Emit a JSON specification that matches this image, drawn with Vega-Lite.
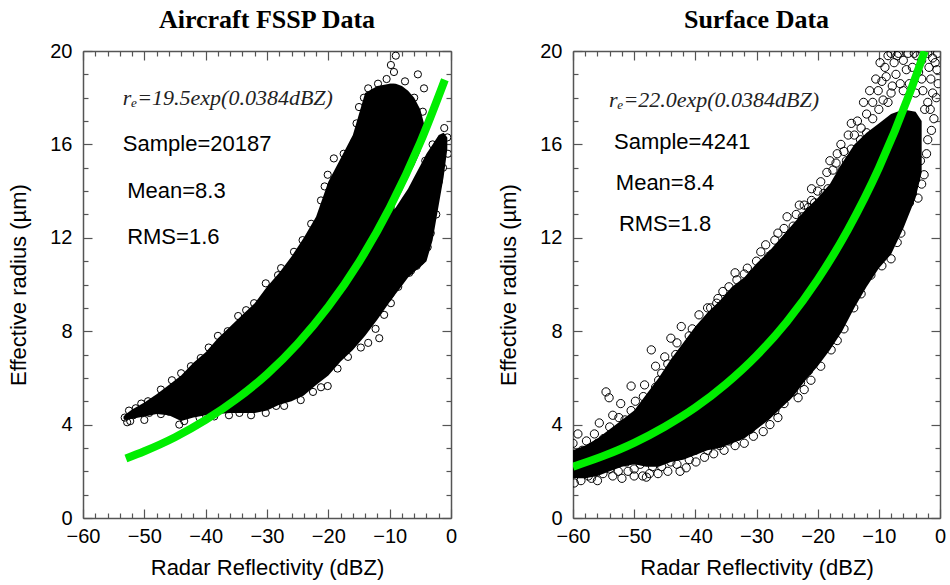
{
  "$schema": "https://vega.github.io/schema/vega-lite/v6.json",
  "background": "white",
  "padding": {"left": 7, "top": 7, "right": 5, "bottom": 4},
  "config": {
    "view": {"stroke": null},
    "axis": {
      "domainColor": "#555555", "domainWidth": 1.5,
      "tickColor": "#555555", "tickWidth": 1.2,
      "labelFont": "Liberation Sans", "labelFontSize": 20, "labelColor": "black",
      "titleFont": "Liberation Sans", "titleFontSize": 22, "titleFontWeight": "normal", "titleColor": "black",
      "grid": false, "labelOverlap": false, "labelFlush": false
    },
    "title": {"font": "Liberation Serif", "fontWeight": "bold", "fontSize": 26, "color": "black", "offset": 8}
  },
  "datasets": {
    "coreA": [
      {"part": "main", "x": -53.4, "lo": 4.25, "hi": 4.35},
      {"part": "main", "x": -53, "lo": 4.2, "hi": 4.45},
      {"part": "main", "x": -52, "lo": 4.25, "hi": 4.65},
      {"part": "main", "x": -50, "lo": 4.35, "hi": 4.95},
      {"part": "main", "x": -48, "lo": 4.45, "hi": 5.3},
      {"part": "main", "x": -46, "lo": 4.4, "hi": 5.7},
      {"part": "main", "x": -44, "lo": 4.15, "hi": 6.1},
      {"part": "main", "x": -42, "lo": 4.3, "hi": 6.65},
      {"part": "main", "x": -40, "lo": 4.4, "hi": 7.1},
      {"part": "main", "x": -38, "lo": 4.45, "hi": 7.7},
      {"part": "main", "x": -36, "lo": 4.5, "hi": 8.2},
      {"part": "main", "x": -34, "lo": 4.5, "hi": 8.7},
      {"part": "main", "x": -32, "lo": 4.5, "hi": 9.2},
      {"part": "main", "x": -30, "lo": 4.6, "hi": 9.9},
      {"part": "main", "x": -28, "lo": 4.85, "hi": 10.5},
      {"part": "main", "x": -26, "lo": 5.0, "hi": 11.2},
      {"part": "main", "x": -24, "lo": 5.25, "hi": 12.0},
      {"part": "main", "x": -22, "lo": 5.7, "hi": 12.9},
      {"part": "main", "x": -20, "lo": 6.1, "hi": 14.4},
      {"part": "main", "x": -18, "lo": 6.7, "hi": 15.4},
      {"part": "main", "x": -16, "lo": 7.2, "hi": 16.4},
      {"part": "main", "x": -14, "lo": 7.8, "hi": 18.2},
      {"part": "main", "x": -12, "lo": 8.5, "hi": 18.5},
      {"part": "main", "x": -10, "lo": 9.25, "hi": 18.6},
      {"part": "main", "x": -9.2, "lo": 9.55, "hi": 18.6},
      {"part": "upper", "x": -10, "lo": 13.0, "hi": 18.6},
      {"part": "upper", "x": -9, "lo": 13.5, "hi": 18.6},
      {"part": "upper", "x": -8, "lo": 14.0, "hi": 18.5},
      {"part": "upper", "x": -7, "lo": 14.6, "hi": 18.3},
      {"part": "upper", "x": -6, "lo": 15.1, "hi": 18.0},
      {"part": "upper", "x": -5, "lo": 15.7, "hi": 17.5},
      {"part": "upper", "x": -4.4, "lo": 16.3, "hi": 16.9},
      {"part": "lower", "x": -10, "lo": 9.25, "hi": 13.0},
      {"part": "lower", "x": -9, "lo": 9.6, "hi": 13.3},
      {"part": "lower", "x": -8, "lo": 9.95, "hi": 13.7},
      {"part": "lower", "x": -7, "lo": 10.3, "hi": 14.1},
      {"part": "lower", "x": -6, "lo": 10.55, "hi": 14.6},
      {"part": "lower", "x": -5, "lo": 10.75, "hi": 15.1},
      {"part": "lower", "x": -4, "lo": 11.0, "hi": 15.6},
      {"part": "lower", "x": -3, "lo": 11.9, "hi": 16.0},
      {"part": "lower", "x": -2, "lo": 13.4, "hi": 16.4},
      {"part": "lower", "x": -1.2, "lo": 14.6, "hi": 16.5},
      {"part": "lower", "x": -0.6, "lo": 15.8, "hi": 16.3}
    ],
    "ptsA": [
      {"x": -53.2, "y": 4.3}, {"x": -52.8, "y": 4.1}, {"x": -52.3, "y": 4.15}, {"x": -51.8, "y": 4.4}, {"x": -51.4, "y": 4.7},
      {"x": -50.0, "y": 4.2}, {"x": -49.2, "y": 4.5}, {"x": -47.3, "y": 4.45}, {"x": -46.0, "y": 4.55}, {"x": -44.3, "y": 4.0},
      {"x": -43.5, "y": 4.15}, {"x": -41.0, "y": 4.3}, {"x": -38.6, "y": 4.35}, {"x": -36.2, "y": 4.4}, {"x": -34.5, "y": 4.5},
      {"x": -32.6, "y": 4.4}, {"x": -30.2, "y": 4.5}, {"x": -28.5, "y": 4.8}, {"x": -27.2, "y": 4.8}, {"x": -24.5, "y": 5.05},
      {"x": -22.5, "y": 5.4}, {"x": -21.2, "y": 5.6}, {"x": -20.1, "y": 5.65}, {"x": -18.5, "y": 6.4}, {"x": -16.8, "y": 6.9},
      {"x": -14.7, "y": 7.3}, {"x": -13.5, "y": 7.5}, {"x": -11.7, "y": 7.7}, {"x": -12.3, "y": 8.1}, {"x": -10.9, "y": 8.7},
      {"x": -9.8, "y": 9.2}, {"x": -8.6, "y": 9.9}, {"x": -6.8, "y": 10.5}, {"x": -5.6, "y": 10.8},
      {"x": -52.5, "y": 4.6}, {"x": -50.5, "y": 4.9}, {"x": -49.4, "y": 5.0}, {"x": -47.3, "y": 5.5}, {"x": -45.5, "y": 5.9},
      {"x": -44.0, "y": 6.2}, {"x": -42.4, "y": 6.5}, {"x": -40.8, "y": 6.85}, {"x": -39.5, "y": 7.3}, {"x": -38.0, "y": 7.8},
      {"x": -36.4, "y": 8.0}, {"x": -34.7, "y": 8.65}, {"x": -33.4, "y": 8.9}, {"x": -32.1, "y": 9.2}, {"x": -30.2, "y": 10.05},
      {"x": -28.2, "y": 10.4}, {"x": -27.7, "y": 10.7}, {"x": -25.6, "y": 11.4}, {"x": -24.2, "y": 11.9}, {"x": -22.8, "y": 12.6},
      {"x": -21.2, "y": 13.6}, {"x": -20.6, "y": 14.2}, {"x": -20.1, "y": 14.7}, {"x": -19.1, "y": 15.4}, {"x": -17.5, "y": 15.6},
      {"x": -15.8, "y": 16.1}, {"x": -15.4, "y": 16.9}, {"x": -15.0, "y": 17.6}, {"x": -14.2, "y": 18.0}, {"x": -13.5, "y": 18.4},
      {"x": -11.9, "y": 18.6}, {"x": -10.5, "y": 18.8}, {"x": -9.8, "y": 19.4}, {"x": -9.0, "y": 19.8}, {"x": -9.3, "y": 19.1},
      {"x": -7.5, "y": 18.7}, {"x": -5.4, "y": 19.0}, {"x": -4.4, "y": 18.4}, {"x": -6.0, "y": 18.0}, {"x": -4.6, "y": 17.4},
      {"x": -1.1, "y": 16.7}, {"x": -0.6, "y": 16.3}, {"x": -1.6, "y": 16.2}, {"x": -0.5, "y": 15.6}, {"x": -1.3, "y": 15.0},
      {"x": -2.0, "y": 14.4}, {"x": -2.8, "y": 14.0}, {"x": -2.4, "y": 13.0}, {"x": -3.3, "y": 12.2}, {"x": -3.8, "y": 11.6},
      {"x": -5.0, "y": 11.0}, {"x": -6.5, "y": 10.6}, {"x": -3.0, "y": 16.0}, {"x": -4.2, "y": 15.3},
      {"x": -18.8, "y": 14.5}, {"x": -19.6, "y": 13.2}, {"x": -17.0, "y": 15.0}, {"x": -22.0, "y": 12.0}, {"x": -24.0, "y": 11.2}
    ],
    "fitA": [
      {"x": -53, "y": 2.55}, {"x": -50, "y": 2.86}, {"x": -45, "y": 3.46}, {"x": -40, "y": 4.20},
      {"x": -35, "y": 5.09}, {"x": -30, "y": 6.16}, {"x": -25, "y": 7.47}, {"x": -20, "y": 9.05},
      {"x": -15, "y": 10.96}, {"x": -10, "y": 13.28}, {"x": -5, "y": 16.09}, {"x": -1, "y": 18.77}
    ],
    "frmA": [{"x": -53.5, "y": 18.0, "t": "rₑ=19.5exp(0.0384dBZ)"}],
    "txtA": [
      {"x": -53.5, "y": 16.0, "t": "Sample=20187"},
      {"x": -52.8, "y": 14.0, "t": "Mean=8.3"},
      {"x": -52.8, "y": 12.05, "t": "RMS=1.6"}
    ],
    "coreB": [
      {"x": -60, "lo": 1.7, "hi": 2.9}, {"x": -58, "lo": 1.7, "hi": 3.1}, {"x": -56, "lo": 1.8, "hi": 3.4},
      {"x": -54, "lo": 2.0, "hi": 3.8}, {"x": -52, "lo": 2.2, "hi": 4.2}, {"x": -50, "lo": 2.3, "hi": 4.6},
      {"x": -48, "lo": 2.2, "hi": 5.3}, {"x": -46, "lo": 2.2, "hi": 6.0}, {"x": -44, "lo": 2.4, "hi": 6.8},
      {"x": -42, "lo": 2.5, "hi": 7.5}, {"x": -40, "lo": 2.7, "hi": 8.2}, {"x": -38, "lo": 2.9, "hi": 8.8},
      {"x": -36, "lo": 3.0, "hi": 9.3}, {"x": -34, "lo": 3.2, "hi": 9.9}, {"x": -32, "lo": 3.4, "hi": 10.3},
      {"x": -30, "lo": 3.8, "hi": 10.9}, {"x": -28, "lo": 4.2, "hi": 11.4}, {"x": -26, "lo": 4.7, "hi": 12.0},
      {"x": -24, "lo": 5.2, "hi": 12.6}, {"x": -22, "lo": 5.9, "hi": 13.2}, {"x": -20, "lo": 6.5, "hi": 13.7},
      {"x": -18, "lo": 7.2, "hi": 14.3}, {"x": -16, "lo": 8.0, "hi": 15.2}, {"x": -14, "lo": 9.0, "hi": 16.0},
      {"x": -12, "lo": 9.9, "hi": 16.5}, {"x": -10, "lo": 10.7, "hi": 16.9}, {"x": -8, "lo": 11.3, "hi": 17.3},
      {"x": -6, "lo": 12.4, "hi": 17.5}, {"x": -4, "lo": 13.7, "hi": 17.4}, {"x": -3, "lo": 14.8, "hi": 17.0}
    ],
    "ptsB": [
      {"x": -60, "y": 3.2}, {"x": -59.2, "y": 3.6}, {"x": -58.5, "y": 2.9}, {"x": -57.8, "y": 3.3}, {"x": -56.5, "y": 3.6},
      {"x": -55.7, "y": 4.07}, {"x": -55.0, "y": 3.4}, {"x": -54.6, "y": 5.4}, {"x": -54.1, "y": 5.15}, {"x": -53.5, "y": 4.4},
      {"x": -52.2, "y": 4.9}, {"x": -51.5, "y": 4.2}, {"x": -50.5, "y": 5.65}, {"x": -49.8, "y": 5.0}, {"x": -49.0, "y": 4.6},
      {"x": -48.3, "y": 5.7}, {"x": -47.2, "y": 7.2}, {"x": -46.5, "y": 6.5}, {"x": -46.0, "y": 5.9}, {"x": -45.0, "y": 6.9},
      {"x": -44.0, "y": 7.7}, {"x": -43.2, "y": 7.0}, {"x": -42.3, "y": 8.2}, {"x": -41.0, "y": 7.8}, {"x": -39.4, "y": 8.7},
      {"x": -38.5, "y": 8.3}, {"x": -37.5, "y": 9.0}, {"x": -36.3, "y": 9.4}, {"x": -35.4, "y": 9.0}, {"x": -34.5, "y": 9.9},
      {"x": -33.2, "y": 10.2}, {"x": -32.0, "y": 10.45}, {"x": -31.0, "y": 10.0}, {"x": -29.3, "y": 11.4}, {"x": -28.0, "y": 11.2},
      {"x": -27.0, "y": 11.9}, {"x": -25.5, "y": 12.4}, {"x": -24.5, "y": 12.0}, {"x": -23.5, "y": 13.0}, {"x": -22.2, "y": 13.4},
      {"x": -21.0, "y": 13.6}, {"x": -20.0, "y": 14.0}, {"x": -18.3, "y": 14.1}, {"x": -17.5, "y": 14.9}, {"x": -16.8, "y": 15.6},
      {"x": -15.7, "y": 15.7}, {"x": -15.0, "y": 16.4}, {"x": -14.0, "y": 16.4}, {"x": -12.9, "y": 16.7}, {"x": -12.0, "y": 17.3},
      {"x": -11.0, "y": 17.8}, {"x": -10.1, "y": 18.3}, {"x": -9.5, "y": 18.7}, {"x": -9.0, "y": 19.3}, {"x": -8.0, "y": 19.9},
      {"x": -7.5, "y": 19.5}, {"x": -6.8, "y": 19.9}, {"x": -6.0, "y": 19.6}, {"x": -5.2, "y": 19.9}, {"x": -4.5, "y": 19.3},
      {"x": -3.8, "y": 19.8}, {"x": -2.0, "y": 19.9}, {"x": -1.2, "y": 19.7}, {"x": -0.4, "y": 19.9}, {"x": -0.5, "y": 19.2},
      {"x": -0.3, "y": 18.6}, {"x": -1.2, "y": 18.2}, {"x": -1.0, "y": 17.1}, {"x": -2.0, "y": 16.2}, {"x": -2.6, "y": 14.7},
      {"x": -3.6, "y": 13.7}, {"x": -5.0, "y": 13.5}, {"x": -5.9, "y": 13.3}, {"x": -6.4, "y": 12.2}, {"x": -7.0, "y": 11.8},
      {"x": -8.0, "y": 11.1}, {"x": -7.8, "y": 18.5}, {"x": -6.0, "y": 18.3}, {"x": -4.0, "y": 18.2}, {"x": -3.0, "y": 18.8},
      {"x": -2.5, "y": 17.5}, {"x": -8.5, "y": 17.8}, {"x": -10.5, "y": 16.5}, {"x": -13.5, "y": 15.5},
      {"x": -9.5, "y": 10.8}, {"x": -11.3, "y": 10.4}, {"x": -12.9, "y": 9.6}, {"x": -14.1, "y": 9.0}, {"x": -15.7, "y": 8.1},
      {"x": -16.8, "y": 7.6}, {"x": -17.8, "y": 7.2}, {"x": -19.5, "y": 6.5}, {"x": -21.1, "y": 5.9}, {"x": -22.2, "y": 5.5},
      {"x": -23.2, "y": 5.15}, {"x": -25.5, "y": 4.9}, {"x": -26.5, "y": 4.3}, {"x": -27.8, "y": 4.0}, {"x": -28.9, "y": 3.7},
      {"x": -30.5, "y": 3.5}, {"x": -32.0, "y": 3.2}, {"x": -33.5, "y": 3.1}, {"x": -35.3, "y": 2.9}, {"x": -37.0, "y": 2.75},
      {"x": -38.5, "y": 2.6}, {"x": -39.9, "y": 2.4}, {"x": -41.5, "y": 2.15}, {"x": -43.0, "y": 2.3}, {"x": -44.5, "y": 2.0},
      {"x": -46.1, "y": 1.9}, {"x": -47.0, "y": 2.2}, {"x": -48.0, "y": 1.75}, {"x": -48.6, "y": 1.8}, {"x": -50.0, "y": 2.1},
      {"x": -51.3, "y": 2.4}, {"x": -52.6, "y": 2.0}, {"x": -53.5, "y": 1.8}, {"x": -55.1, "y": 1.9}, {"x": -56.5, "y": 2.1},
      {"x": -57.5, "y": 1.8}, {"x": -58.7, "y": 1.6}, {"x": -59.8, "y": 1.5}, {"x": -59.5, "y": 2.0},
      {"x": -58, "y": 2.5}, {"x": -57, "y": 2.9}, {"x": -56, "y": 2.4}, {"x": -56, "y": 3.2}, {"x": -55, "y": 2.6},
      {"x": -54, "y": 3.0}, {"x": -54, "y": 3.9}, {"x": -53, "y": 3.4}, {"x": -52.5, "y": 4.3}, {"x": -52, "y": 3.0},
      {"x": -51, "y": 3.7}, {"x": -50.5, "y": 4.6}, {"x": -50, "y": 3.4}, {"x": -49, "y": 4.0}, {"x": -48.5, "y": 5.2},
      {"x": -48, "y": 4.4}, {"x": -47, "y": 4.9}, {"x": -46.5, "y": 5.6}, {"x": -45.5, "y": 6.2}, {"x": -45, "y": 5.3},
      {"x": -44.5, "y": 6.6}, {"x": -43.5, "y": 6.3}, {"x": -43, "y": 7.5}, {"x": -42, "y": 6.8}, {"x": -41.5, "y": 7.3},
      {"x": -40.5, "y": 8.1}, {"x": -40, "y": 7.5}, {"x": -39, "y": 8.0}, {"x": -38, "y": 9.0}, {"x": -37, "y": 8.6},
      {"x": -36.5, "y": 9.2}, {"x": -35.5, "y": 9.7}, {"x": -34, "y": 9.6}, {"x": -33.5, "y": 10.5}, {"x": -32.5, "y": 9.9},
      {"x": -31.5, "y": 10.7}, {"x": -30.5, "y": 10.3}, {"x": -30, "y": 11.0}, {"x": -28.5, "y": 10.9}, {"x": -28.5, "y": 11.7},
      {"x": -27.5, "y": 11.3}, {"x": -26.5, "y": 12.2}, {"x": -26, "y": 11.6}, {"x": -25, "y": 12.9}, {"x": -24, "y": 12.5},
      {"x": -23, "y": 13.4}, {"x": -22.5, "y": 12.9}, {"x": -21.5, "y": 13.3}, {"x": -21, "y": 14.1}, {"x": -20.5, "y": 13.5},
      {"x": -19.5, "y": 14.4}, {"x": -19, "y": 13.9}, {"x": -18.5, "y": 14.8}, {"x": -18, "y": 15.3}, {"x": -17, "y": 15.2},
      {"x": -16.2, "y": 16.0}, {"x": -16, "y": 14.9}, {"x": -15.3, "y": 15.3}, {"x": -14.5, "y": 16.9}, {"x": -14.5, "y": 15.8},
      {"x": -13.5, "y": 17.0}, {"x": -13, "y": 16.2}, {"x": -12.5, "y": 17.8}, {"x": -12, "y": 16.5}, {"x": -11.5, "y": 18.3},
      {"x": -11, "y": 17.1}, {"x": -10.5, "y": 18.8}, {"x": -10, "y": 17.5}, {"x": -9.8, "y": 19.5}, {"x": -9.3, "y": 17.9},
      {"x": -8.8, "y": 18.9}, {"x": -8.5, "y": 19.8}, {"x": -8, "y": 18.2}, {"x": -7.2, "y": 19.0}, {"x": -7, "y": 19.8},
      {"x": -6.5, "y": 18.6}, {"x": -5.5, "y": 19.2}, {"x": -5, "y": 18.6}, {"x": -4.2, "y": 19.9}, {"x": -3.5, "y": 19.1},
      {"x": -3, "y": 19.6}, {"x": -2.8, "y": 18.3}, {"x": -1.8, "y": 19.3}, {"x": -1.5, "y": 18.8}, {"x": -0.8, "y": 19.5},
      {"x": -0.6, "y": 18.0}, {"x": -1.6, "y": 17.5}, {"x": -1.4, "y": 16.6}, {"x": -2.2, "y": 15.6}, {"x": -2.0, "y": 17.8},
      {"x": -3.0, "y": 14.3}, {"x": -3.2, "y": 15.3},
      {"x": -58, "y": 2.2}, {"x": -57, "y": 1.7}, {"x": -56, "y": 1.6}, {"x": -55, "y": 2.3}, {"x": -54, "y": 2.1},
      {"x": -52, "y": 1.7}, {"x": -51, "y": 2.0}, {"x": -50, "y": 1.8}, {"x": -49, "y": 2.3}, {"x": -47.5, "y": 1.9},
      {"x": -45.5, "y": 2.2}, {"x": -44, "y": 2.4}, {"x": -42.5, "y": 2.0}, {"x": -41, "y": 2.5}, {"x": -40, "y": 2.9},
      {"x": -38, "y": 2.9}, {"x": -36, "y": 3.1}, {"x": -34.5, "y": 3.3}, {"x": -33, "y": 3.5}, {"x": -31, "y": 3.8},
      {"x": -29.5, "y": 4.2}, {"x": -28, "y": 4.5}, {"x": -27, "y": 4.6}, {"x": -25, "y": 5.2}, {"x": -24, "y": 5.4},
      {"x": -22.8, "y": 5.8}, {"x": -21.5, "y": 6.3}, {"x": -20.5, "y": 6.8}, {"x": -19, "y": 7.2}, {"x": -18, "y": 7.8},
      {"x": -17, "y": 8.3}, {"x": -16, "y": 8.7}, {"x": -15, "y": 9.0}, {"x": -14, "y": 9.6}, {"x": -13, "y": 10.1},
      {"x": -12, "y": 10.5}, {"x": -11, "y": 11.0}, {"x": -10, "y": 11.3}, {"x": -9, "y": 11.6}, {"x": -7.5, "y": 12.3},
      {"x": -6.8, "y": 12.8}, {"x": -5.5, "y": 13.4}, {"x": -4.5, "y": 13.9}, {"x": -4, "y": 14.5}
    ],
    "fitB": [
      {"x": -60, "y": 2.20}, {"x": -55, "y": 2.66}, {"x": -50, "y": 3.22}, {"x": -45, "y": 3.91},
      {"x": -40, "y": 4.73}, {"x": -35, "y": 5.74}, {"x": -30, "y": 6.95}, {"x": -25, "y": 8.42},
      {"x": -20, "y": 10.21}, {"x": -15, "y": 12.37}, {"x": -10, "y": 14.98}, {"x": -5, "y": 18.16}, {"x": -2.5, "y": 19.99}
    ],
    "frmB": [{"x": -54.1, "y": 17.9, "t": "rₑ=22.0exp(0.0384dBZ)"}],
    "txtB": [
      {"x": -53.3, "y": 16.1, "t": "Sample=4241"},
      {"x": -53.0, "y": 14.35, "t": "Mean=8.4"},
      {"x": -52.5, "y": 12.6, "t": "RMS=1.8"}
    ]
  },
  "hconcat": [
    {
      "width": 368, "height": 467,
      "title": {"text": "Aircraft FSSP Data"},
      "resolve": {"axis": {"x": "independent", "y": "independent"}},
      "layer": [
        {
          "data": {"name": "coreA"},
          "mark": {"type": "area", "color": "black", "opacity": 1, "clip": true},
          "encoding": {
            "x": {"field": "x", "type": "quantitative", "scale": {"domain": [-60, 0], "nice": false, "zero": false},
              "axis": {"orient": "bottom", "title": "Radar Reflectivity (dBZ)", "values": [-60,-58,-56,-54,-52,-50,-48,-46,-44,-42,-40,-38,-36,-34,-32,-30,-28,-26,-24,-22,-20,-18,-16,-14,-12,-10,-8,-6,-4,-2,0],
                "labelExpr": "datum.value % 10 === 0 ? datum.label : ''",
                "tickSize": {"condition": {"test": "datum.value % 10 === 0", "value": -9}, "value": -5},
                "labelPadding": 17, "titlePadding": 7}},
            "y": {"field": "hi", "type": "quantitative", "scale": {"domain": [0, 20], "nice": false, "zero": false},
              "axis": {"orient": "left", "title": "Effective radius (µm)", "values": [0,1,2,3,4,5,6,7,8,9,10,11,12,13,14,15,16,17,18,19,20],
                "labelExpr": "datum.value % 4 === 0 ? datum.label : ''",
                "tickSize": {"condition": {"test": "datum.value % 4 === 0", "value": -9}, "value": -5},
                "labelPadding": 20, "titlePadding": 19}},
            "y2": {"field": "lo"},
            "detail": {"field": "part", "type": "nominal"}
          }
        },
        {
          "data": {"name": "ptsA"},
          "mark": {"type": "point", "shape": "circle", "filled": false, "color": "black", "size": 52, "strokeWidth": 1, "opacity": 1, "clip": true},
          "encoding": {
            "x": {"field": "x", "type": "quantitative", "scale": {"domain": [-60, 0], "nice": false, "zero": false},
              "axis": {"orient": "top", "title": null, "labels": false, "values": [-60,-58,-56,-54,-52,-50,-48,-46,-44,-42,-40,-38,-36,-34,-32,-30,-28,-26,-24,-22,-20,-18,-16,-14,-12,-10,-8,-6,-4,-2,0],
                "tickSize": {"condition": {"test": "datum.value % 10 === 0", "value": -9}, "value": -5}}},
            "y": {"field": "y", "type": "quantitative", "scale": {"domain": [0, 20], "nice": false, "zero": false},
              "axis": {"orient": "right", "title": null, "labels": false, "values": [0,1,2,3,4,5,6,7,8,9,10,11,12,13,14,15,16,17,18,19,20],
                "tickSize": {"condition": {"test": "datum.value % 4 === 0", "value": -9}, "value": -5}}}
          }
        },
        {
          "data": {"name": "fitA"},
          "mark": {"type": "line", "color": "#00ee00", "strokeWidth": 8, "interpolate": "monotone", "clip": true},
          "encoding": {
            "x": {"field": "x", "type": "quantitative", "axis": null},
            "y": {"field": "y", "type": "quantitative", "axis": null}
          }
        },
        {
          "data": {"name": "frmA"},
          "mark": {"type": "text", "align": "left", "baseline": "middle", "font": "Liberation Serif", "fontStyle": "italic", "fontSize": 22, "color": "#222222"},
          "encoding": {
            "x": {"field": "x", "type": "quantitative", "axis": null},
            "y": {"field": "y", "type": "quantitative", "axis": null},
            "text": {"field": "t"}
          }
        },
        {
          "data": {"name": "txtA"},
          "mark": {"type": "text", "align": "left", "baseline": "middle", "font": "Liberation Sans", "fontSize": 22, "color": "black"},
          "encoding": {
            "x": {"field": "x", "type": "quantitative", "axis": null},
            "y": {"field": "y", "type": "quantitative", "axis": null},
            "text": {"field": "t"}
          }
        }
      ]
    },
    {
      "width": 367, "height": 467,
      "title": {"text": "Surface Data"},
      "resolve": {"axis": {"x": "independent", "y": "independent"}},
      "layer": [
        {
          "data": {"name": "coreB"},
          "mark": {"type": "area", "color": "black", "opacity": 1, "clip": true},
          "encoding": {
            "x": {"field": "x", "type": "quantitative", "scale": {"domain": [-60, 0], "nice": false, "zero": false},
              "axis": {"orient": "bottom", "title": "Radar Reflectivity (dBZ)", "values": [-60,-58,-56,-54,-52,-50,-48,-46,-44,-42,-40,-38,-36,-34,-32,-30,-28,-26,-24,-22,-20,-18,-16,-14,-12,-10,-8,-6,-4,-2,0],
                "labelExpr": "datum.value % 10 === 0 ? datum.label : ''",
                "tickSize": {"condition": {"test": "datum.value % 10 === 0", "value": -9}, "value": -5},
                "labelPadding": 17, "titlePadding": 7}},
            "y": {"field": "hi", "type": "quantitative", "scale": {"domain": [0, 20], "nice": false, "zero": false},
              "axis": {"orient": "left", "title": "Effective radius (µm)", "values": [0,1,2,3,4,5,6,7,8,9,10,11,12,13,14,15,16,17,18,19,20],
                "labelExpr": "datum.value % 4 === 0 ? datum.label : ''",
                "tickSize": {"condition": {"test": "datum.value % 4 === 0", "value": -9}, "value": -5},
                "labelPadding": 20, "titlePadding": 19}},
            "y2": {"field": "lo"}
          }
        },
        {
          "data": {"name": "ptsB"},
          "mark": {"type": "point", "shape": "circle", "filled": false, "color": "black", "size": 68, "strokeWidth": 1, "opacity": 1, "clip": true},
          "encoding": {
            "x": {"field": "x", "type": "quantitative", "scale": {"domain": [-60, 0], "nice": false, "zero": false},
              "axis": {"orient": "top", "title": null, "labels": false, "values": [-60,-58,-56,-54,-52,-50,-48,-46,-44,-42,-40,-38,-36,-34,-32,-30,-28,-26,-24,-22,-20,-18,-16,-14,-12,-10,-8,-6,-4,-2,0],
                "tickSize": {"condition": {"test": "datum.value % 10 === 0", "value": -9}, "value": -5}}},
            "y": {"field": "y", "type": "quantitative", "scale": {"domain": [0, 20], "nice": false, "zero": false},
              "axis": {"orient": "right", "title": null, "labels": false, "values": [0,1,2,3,4,5,6,7,8,9,10,11,12,13,14,15,16,17,18,19,20],
                "tickSize": {"condition": {"test": "datum.value % 4 === 0", "value": -9}, "value": -5}}}
          }
        },
        {
          "data": {"name": "fitB"},
          "mark": {"type": "line", "color": "#00ee00", "strokeWidth": 8, "interpolate": "monotone", "clip": true},
          "encoding": {
            "x": {"field": "x", "type": "quantitative", "axis": null},
            "y": {"field": "y", "type": "quantitative", "axis": null}
          }
        },
        {
          "data": {"name": "frmB"},
          "mark": {"type": "text", "align": "left", "baseline": "middle", "font": "Liberation Serif", "fontStyle": "italic", "fontSize": 22, "color": "#222222"},
          "encoding": {
            "x": {"field": "x", "type": "quantitative", "axis": null},
            "y": {"field": "y", "type": "quantitative", "axis": null},
            "text": {"field": "t"}
          }
        },
        {
          "data": {"name": "txtB"},
          "mark": {"type": "text", "align": "left", "baseline": "middle", "font": "Liberation Sans", "fontSize": 22, "color": "black"},
          "encoding": {
            "x": {"field": "x", "type": "quantitative", "axis": null},
            "y": {"field": "y", "type": "quantitative", "axis": null},
            "text": {"field": "t"}
          }
        }
      ]
    }
  ],
  "spacing": 122,
  "bounds": "flush"
}
